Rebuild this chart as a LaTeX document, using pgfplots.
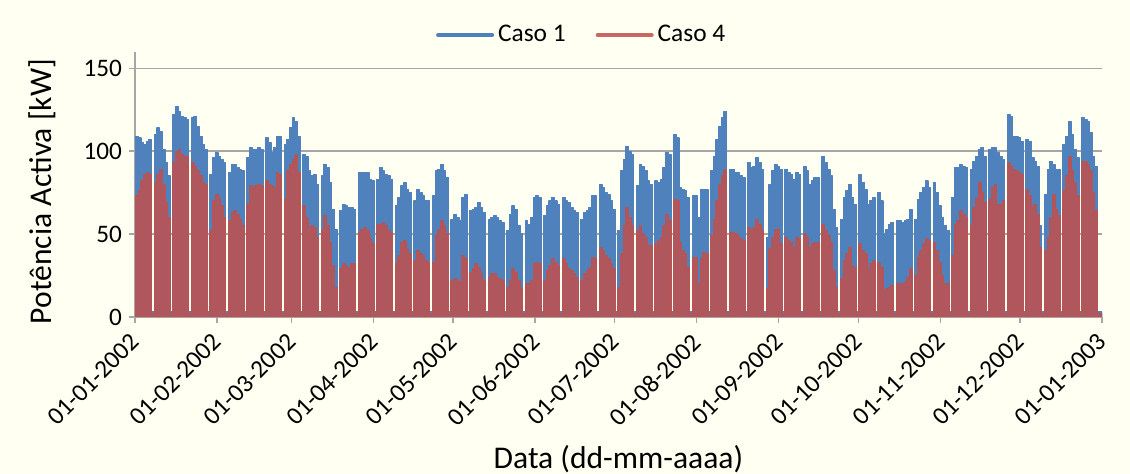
\documentclass[border=0pt]{standalone}
\usepackage{pgfplots}
\pgfplotsset{compat=1.18}
\usepackage{fontspec}
\setmainfont{Carlito}
\definecolor{cream}{RGB}{255,255,242}
\definecolor{cblue}{RGB}{79,129,189}
\definecolor{cred}{RGB}{192,80,77}
\definecolor{gridgray}{RGB}{166,166,166}
\begin{document}
\begin{tikzpicture}
\fill[cream] (0,0) rectangle (565bp,237bp);
\useasboundingbox (0,0) rectangle (565bp,237bp);
\begin{axis}[
  at={(67.5bp,78.5bp)}, anchor=south west,
  scale only axis, width=483.5bp, height=132.65bp,
  xmin=0, xmax=365, ymin=0, ymax=160,
  axis x line*=bottom, axis y line*=left,
  axis line style={gridgray, line width=0.7bp, -},
  xtick={0,31,59,90,120,151,181,212,243,273,304,334,365},
  xticklabels={01-01-2002,01-02-2002,01-03-2002,01-04-2002,01-05-2002,01-06-2002,01-07-2002,01-08-2002,01-09-2002,01-10-2002,01-11-2002,01-12-2002,01-01-2003},
  ytick={0,50,100,150},
  ymajorgrids, grid style={gridgray, line width=0.7bp},
  tick align=outside, major tick length=3bp,
  tick style={gridgray, line width=0.7bp},
  tick label style={font=\fontsize{12.6bp}{15bp}\selectfont, black},
  /pgf/number format/assume math mode=true,
  xticklabel style={xshift=2.5bp, yshift=-5bp, rotate=45, anchor=east},
  xlabel={Data (dd-mm-aaaa)},
  xlabel style={at={(axis description cs:0.5,-0.535)}, anchor=center, font=\fontsize{15.8bp}{18bp}\selectfont},
  ylabel={Potência Activa [kW]},
  ylabel style={at={(axis description cs:-0.0962,0.473)}, anchor=center, rotate=0, font=\fontsize{15.8bp}{18bp}\selectfont},
  legend style={at={(axis description cs:0.463,1.063)}, anchor=center, draw=none, fill=none,
    font=\fontsize{12.7bp}{15bp}\selectfont, legend columns=2,
    /tikz/every even column/.append style={column sep=13bp}},
  legend image code/.code={\draw[line width=2bp, line cap=round] (0bp,0bp) -- (27bp,0bp);},
  x filter/.expression={x+0.3},
]
\addplot[const plot, fill=cblue, draw=cblue, line width=0.6bp, line join=round] coordinates {
(-0.3,109)
(0,109)(1,108)(2,105)(3,104)(4,106)(5,107)(6,3)
(7,110)(8,114)(9,112)(10,101)(11,93)(12,85)(13,3)
(14,122)(15,127)(16,124)(17,121)(18,120)(19,119)(20,3)
(21,120)(22,121)(23,115)(24,109)(25,104)(26,101)(27,3)
(28,86)(29,96)(30,99)(31,97)(32,95)(33,93)(34,3)
(35,87)(36,92)(37,92)(38,90)(39,89)(40,88)(41,3)
(42,96)(43,102)(44,101)(45,101)(46,102)(47,101)(48,3)
(49,108)(50,105)(51,99)(52,102)(53,109)(54,109)(55,3)
(56,104)(57,107)(58,114)(59,120)(60,118)(61,109)(62,3)
(63,98)(64,97)(65,88)(66,85)(67,86)(68,80)(69,3)
(70,85)(71,92)(72,90)(73,81)(74,65)(75,53)(76,3)
(77,64)(78,68)(79,67)(80,66)(81,66)(82,65)(83,3)
(84,87)(85,87)(86,87)(87,87)(88,83)(89,82)(90,3)
(91,83)(92,90)(93,88)(94,86)(95,85)(96,83)(97,3)
(98,67)(99,72)(100,79)(101,81)(102,77)(103,75)(104,3)
(105,70)(106,77)(107,75)(108,73)(109,70)(110,70)(111,3)
(112,73)(113,88)(114,89)(115,92)(116,88)(117,84)(118,3)
(119,59)(120,62)(121,60)(122,58)(123,72)(124,74)(125,3)
(126,64)(127,65)(128,66)(129,69)(130,66)(131,63)(132,3)
(133,59)(134,60)(135,61)(136,60)(137,58)(138,57)(139,3)
(140,52)(141,62)(142,67)(143,65)(144,55)(145,50)(146,3)
(147,58)(148,56)(149,60)(150,72)(151,73)(152,72)(153,3)
(154,61)(155,67)(156,70)(157,72)(158,70)(159,68)(160,3)
(161,72)(162,70)(163,69)(164,66)(165,64)(166,63)(167,3)
(168,59)(169,63)(170,64)(171,66)(172,73)(173,73)(174,3)
(175,80)(176,78)(177,75)(178,74)(179,70)(180,65)(181,3)
(182,52)(183,88)(184,95)(185,103)(186,100)(187,98)(188,3)
(189,79)(190,92)(191,91)(192,88)(193,82)(194,80)(195,3)
(196,82)(197,81)(198,83)(199,90)(200,99)(201,98)(202,3)
(203,110)(204,108)(205,78)(206,77)(207,76)(208,72)(209,3)
(210,73)(211,73)(212,60)(213,77)(214,77)(215,77)(216,3)
(217,88)(218,97)(219,107)(220,115)(221,120)(222,124)(223,3)
(224,89)(225,89)(226,87)(227,87)(228,85)(229,84)(230,3)
(231,93)(232,90)(233,91)(234,96)(235,93)(236,89)(237,3)
(238,48)(239,80)(240,88)(241,92)(242,91)(243,89)(244,3)
(245,89)(246,87)(247,86)(248,83)(249,87)(250,86)(251,3)
(252,91)(253,88)(254,80)(255,82)(256,84)(257,84)(258,3)
(259,97)(260,93)(261,89)(262,85)(263,65)(264,54)(265,3)
(266,59)(267,72)(268,76)(269,80)(270,72)(271,68)(272,3)
(273,86)(274,81)(275,77)(276,68)(277,70)(278,72)(279,3)
(280,75)(281,70)(282,50)(283,53)(284,56)(285,57)(286,3)
(287,58)(288,58)(289,57)(290,58)(291,59)(292,65)(293,3)
(294,59)(295,71)(296,75)(297,78)(298,82)(299,78)(300,3)
(301,81)(302,75)(303,67)(304,60)(305,55)(306,52)(307,3)
(308,72)(309,90)(310,90)(311,92)(312,91)(313,90)(314,3)
(315,89)(316,94)(317,97)(318,101)(319,102)(320,97)(321,3)
(322,101)(323,102)(324,102)(325,99)(326,97)(327,95)(328,3)
(329,122)(330,121)(331,109)(332,109)(333,108)(334,106)(335,3)
(336,107)(337,106)(338,96)(339,94)(340,91)(341,55)(342,3)
(343,74)(344,89)(345,94)(346,92)(347,89)(348,89)(349,3)
(350,104)(351,109)(352,118)(353,110)(354,101)(355,96)(356,3)
(357,120)(358,119)(359,118)(360,111)(361,97)(362,91)(363,3)
(364,3)(364.7,3)
} \closedcycle;
\addlegendentry{Caso 1}
\addplot[const plot, fill=cred, draw=cred, line width=0.6bp, line join=round, opacity=0.85] coordinates {
(-0.3,73)
(0,73)(1,76)(2,82)(3,86)(4,87)(5,86)(6,2)
(7,81)(8,86)(9,89)(10,80)(11,69)(12,60)(13,2)
(14,93)(15,100)(16,101)(17,98)(18,97)(19,97)(20,2)
(21,93)(22,91)(23,88)(24,85)(25,81)(26,80)(27,2)
(28,52)(29,70)(30,74)(31,72)(32,67)(33,60)(34,2)
(35,58)(36,63)(37,64)(38,62)(39,59)(40,55)(41,2)
(42,68)(43,79)(44,78)(45,79)(46,80)(47,79)(48,2)
(49,82)(50,80)(51,79)(52,78)(53,87)(54,86)(55,2)
(56,71)(57,88)(58,92)(59,95)(60,98)(61,87)(62,2)
(63,67)(64,60)(65,54)(66,55)(67,54)(68,48)(69,2)
(70,52)(71,61)(72,55)(73,45)(74,31)(75,18)(76,2)
(77,29)(78,32)(79,31)(80,30)(81,32)(82,32)(83,2)
(84,51)(85,53)(86,54)(87,52)(88,47)(89,44)(90,2)
(91,56)(92,56)(93,57)(94,55)(95,52)(96,51)(97,2)
(98,32)(99,37)(100,45)(101,46)(102,41)(103,38)(104,2)
(105,34)(106,40)(107,38)(108,37)(109,34)(110,33)(111,2)
(112,33)(113,49)(114,53)(115,58)(116,55)(117,50)(118,2)
(119,22)(120,23)(121,22)(122,21)(123,37)(124,35)(125,2)
(126,27)(127,29)(128,32)(129,30)(130,26)(131,22)(132,2)
(133,24)(134,26)(135,26)(136,24)(137,23)(138,22)(139,2)
(140,18)(141,22)(142,29)(143,27)(144,22)(145,17)(146,2)
(147,20)(148,20)(149,22)(150,32)(151,33)(152,32)(153,2)
(154,22)(155,28)(156,31)(157,35)(158,33)(159,31)(160,2)
(161,35)(162,32)(163,29)(164,28)(165,26)(166,24)(167,2)
(168,22)(169,26)(170,28)(171,30)(172,36)(173,35)(174,2)
(175,42)(176,40)(177,37)(178,35)(179,32)(180,29)(181,2)
(182,18)(183,38)(184,55)(185,66)(186,60)(187,55)(188,2)
(189,52)(190,55)(191,50)(192,48)(193,43)(194,43)(195,2)
(196,44)(197,46)(198,48)(199,55)(200,62)(201,58)(202,2)
(203,71)(204,70)(205,45)(206,40)(207,38)(208,30)(209,2)
(210,36)(211,36)(212,20)(213,35)(214,39)(215,38)(216,2)
(217,49)(218,59)(219,70)(220,80)(221,85)(222,89)(223,2)
(224,51)(225,51)(226,50)(227,49)(228,47)(229,46)(230,2)
(231,54)(232,52)(233,54)(234,59)(235,56)(236,52)(237,2)
(238,17)(239,41)(240,48)(241,53)(242,53)(243,44)(244,2)
(245,48)(246,46)(247,45)(248,42)(249,48)(250,47)(251,2)
(252,50)(253,48)(254,42)(255,44)(256,45)(257,45)(258,2)
(259,56)(260,52)(261,49)(262,45)(263,28)(264,18)(265,2)
(266,23)(267,34)(268,38)(269,42)(270,31)(271,30)(272,2)
(273,44)(274,40)(275,38)(276,28)(277,32)(278,34)(279,2)
(280,33)(281,30)(282,16)(283,17)(284,18)(285,19)(286,2)
(287,20)(288,20)(289,20)(290,21)(291,24)(292,29)(293,2)
(294,25)(295,36)(296,40)(297,44)(298,47)(299,46)(300,2)
(301,45)(302,40)(303,33)(304,25)(305,20)(306,20)(307,2)
(308,37)(309,56)(310,58)(311,64)(312,62)(313,60)(314,2)
(315,55)(316,66)(317,72)(318,81)(319,75)(320,69)(321,2)
(322,71)(323,78)(324,80)(325,68)(326,68)(327,70)(328,2)
(329,93)(330,91)(331,89)(332,88)(333,87)(334,86)(335,2)
(336,77)(337,73)(338,66)(339,68)(340,62)(341,42)(342,2)
(343,40)(344,48)(345,60)(346,74)(347,65)(348,61)(349,2)
(350,76)(351,85)(352,97)(353,88)(354,81)(355,73)(356,2)
(357,94)(358,94)(359,92)(360,88)(361,75)(362,64)(363,2)
(364,2)(364.7,2)
} \closedcycle;
\addlegendentry{Caso 4}
\end{axis}
\end{tikzpicture}
\end{document}
